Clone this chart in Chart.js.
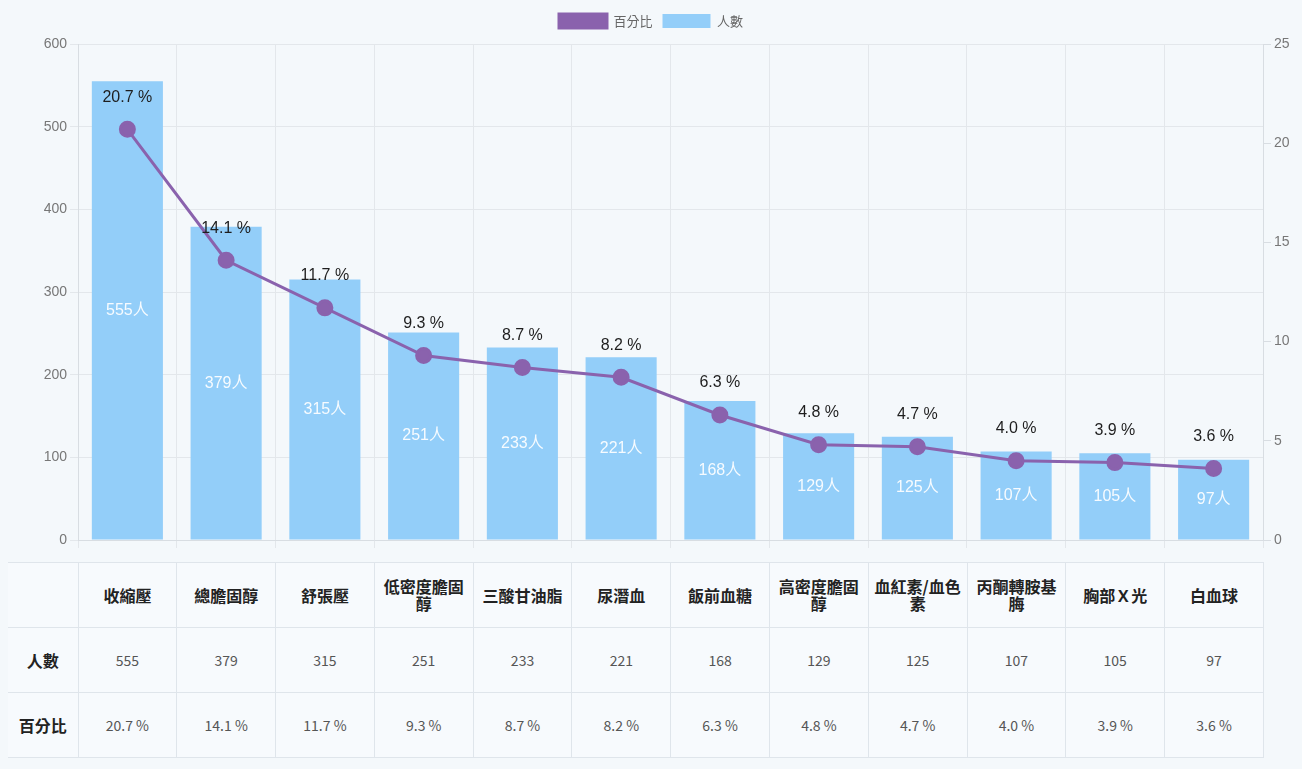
<!DOCTYPE html>
<html>
<head>
<meta charset="utf-8">
<script src="https://cdn.jsdelivr.net/npm/chart.js@4.4.1/dist/chart.umd.min.js"></script>
<style>
  html, body { margin: 0; padding: 0; background: #f4f8fb; }
  body { width: 1302px; height: 769px; overflow: hidden; font-family: "Noto Sans CJK TC", "Noto Sans", sans-serif; }
  .chart-box { position: relative; width: 1302px; height: 556px; }
  table.summary {
    position: absolute; left: 8px; top: 562px;
    width: 1256px; border-collapse: collapse; table-layout: fixed;
    background: #f7fafd;
  }
  table.summary td, table.summary th {
    border: 1px solid #dfe5eb; height: 64px; text-align: center; padding: 0 4px;
  }
  table.summary th { font-size: 16px; font-weight: 700; color: #222; line-height: 17px; }
  table.summary td { font-size: 14px; color: #555; }
  table.summary .rowhead { font-size: 16px; font-weight: 700; color: #222; }
  table.summary tr > :first-child { border-left: none; }
</style>
</head>
<body>
<div class="chart-box"><canvas id="chart" width="1302" height="556"></canvas></div>
<table class="summary" id="summary"></table>

<script>
// ===== DATA =====
const categories = ['收縮壓', '總膽固醇', '舒張壓', '低密度膽固醇', '三酸甘油脂', '尿潛血',
  '飯前血糖', '高密度膽固醇', '血紅素/血色素', '丙酮轉胺基脢', '胸部Ｘ光', '白血球'];
const counts = [555, 379, 315, 251, 233, 221, 168, 129, 125, 107, 105, 97];
const percents = [20.7, 14.1, 11.7, 9.3, 8.7, 8.2, 6.3, 4.8, 4.7, 4.0, 3.9, 3.6];
const countTicks = [0, 100, 200, 300, 400, 500, 600];
const percentTicks = [0, 5, 10, 15, 20, 25];

const PURPLE = '#8a62ad';
const BLUE = '#93cef9';

// a bit more room under the legend
const legendGap = {
  id: 'legendGap',
  beforeInit(chart) {
    const fit = chart.legend.fit;
    chart.legend.fit = function () {
      fit.call(this);
      this.height += 6;
    };
  }
};

// value labels: count in the middle of each bar, percent above each point
const valueLabels = {
  id: 'valueLabels',
  afterDatasetsDraw(chart) {
    const ctx = chart.ctx;
    ctx.save();
    ctx.textAlign = 'center';
    ctx.textBaseline = 'middle';

    const bars = chart.getDatasetMeta(1);
    ctx.font = '16px "Liberation Sans", "Noto Sans CJK TC", sans-serif';
    ctx.fillStyle = 'rgba(255,255,255,0.92)';
    bars.data.forEach((el, i) => {
      ctx.fillText(`${counts[i]}人`, el.x, (el.y + el.base) / 2);
    });

    const pts = chart.getDatasetMeta(0);
    ctx.font = '16px "Liberation Sans", Arial, sans-serif';
    ctx.fillStyle = '#1e1e1e';
    pts.data.forEach((el, i) => {
      ctx.fillText(`${percents[i].toFixed(1)} %`, el.x, el.y - 32);
    });
    ctx.restore();
  }
};

const tickFont = { family: '"Liberation Sans", Arial, sans-serif', size: 14 };

const chart = new Chart(document.getElementById('chart'), {
  data: {
    labels: categories,
    datasets: [
      {
        type: 'line',
        label: '百分比',
        data: percents,
        yAxisID: 'yPct',
        borderColor: PURPLE,
        backgroundColor: PURPLE,
        borderWidth: 3,
        pointRadius: 7,
        pointHoverRadius: 7,
        tension: 0,
        order: 0,
      },
      {
        type: 'bar',
        label: '人數',
        data: counts,
        yAxisID: 'yCount',
        backgroundColor: BLUE,
        borderWidth: 0,
        categoryPercentage: 0.72,
        barPercentage: 1,
        order: 1,
      },
    ],
  },
  options: {
    responsive: false,
    animation: false,
    layout: { padding: { top: 4, bottom: 8 } },
    plugins: {
      tooltip: { enabled: false },
      legend: {
        labels: {
          color: '#666',
          boxWidth: 48,
          boxHeight: 14,
          padding: 10,
          font: { family: '"Noto Sans CJK TC", sans-serif', size: 13 },
        },
      },
    },
    scales: {
      x: {
        offset: true,
        grid: { color: '#e3e7eb', offset: true, tickLength: 8 },
        border: { color: '#d8dde2' },
        ticks: { display: false },
      },
      yCount: {
        position: 'left',
        min: 0, max: 600,
        afterBuildTicks(s) { s.ticks = countTicks.map(v => ({ value: v })); },
        afterFit(s) { s.width = 78; },
        grid: { color: '#e3e7eb', tickLength: 8 },
        border: { color: '#d8dde2' },
        ticks: { color: '#777', font: tickFont },
      },
      yPct: {
        position: 'right',
        min: 0, max: 25,
        afterBuildTicks(s) { s.ticks = percentTicks.map(v => ({ value: v })); },
        afterFit(s) { s.width = 39; },
        grid: { drawOnChartArea: false, color: '#d8dde2', tickLength: 8 },
        border: { color: '#d8dde2' },
        ticks: { color: '#777', font: tickFont },
      },
    },
  },
  plugins: [legendGap, valueLabels],
});

// ===== TABLE =====
function buildTable() {
  const table = document.getElementById('summary');
  let html = '<colgroup><col style="width:70px">';
  categories.forEach(() => { html += '<col>'; });
  html += '</colgroup>';

  html += '<tr><th></th>' + categories.map(c => `<th>${c}</th>`).join('') + '</tr>';
  html += '<tr><td class="rowhead">人數</td>' + counts.map(v => `<td>${v}</td>`).join('') + '</tr>';
  html += '<tr><td class="rowhead">百分比</td>' +
    percents.map(v => `<td>${v.toFixed(1)} %</td>`).join('') + '</tr>';
  table.innerHTML = html;
}

buildTable();
</script>
</body>
</html>
